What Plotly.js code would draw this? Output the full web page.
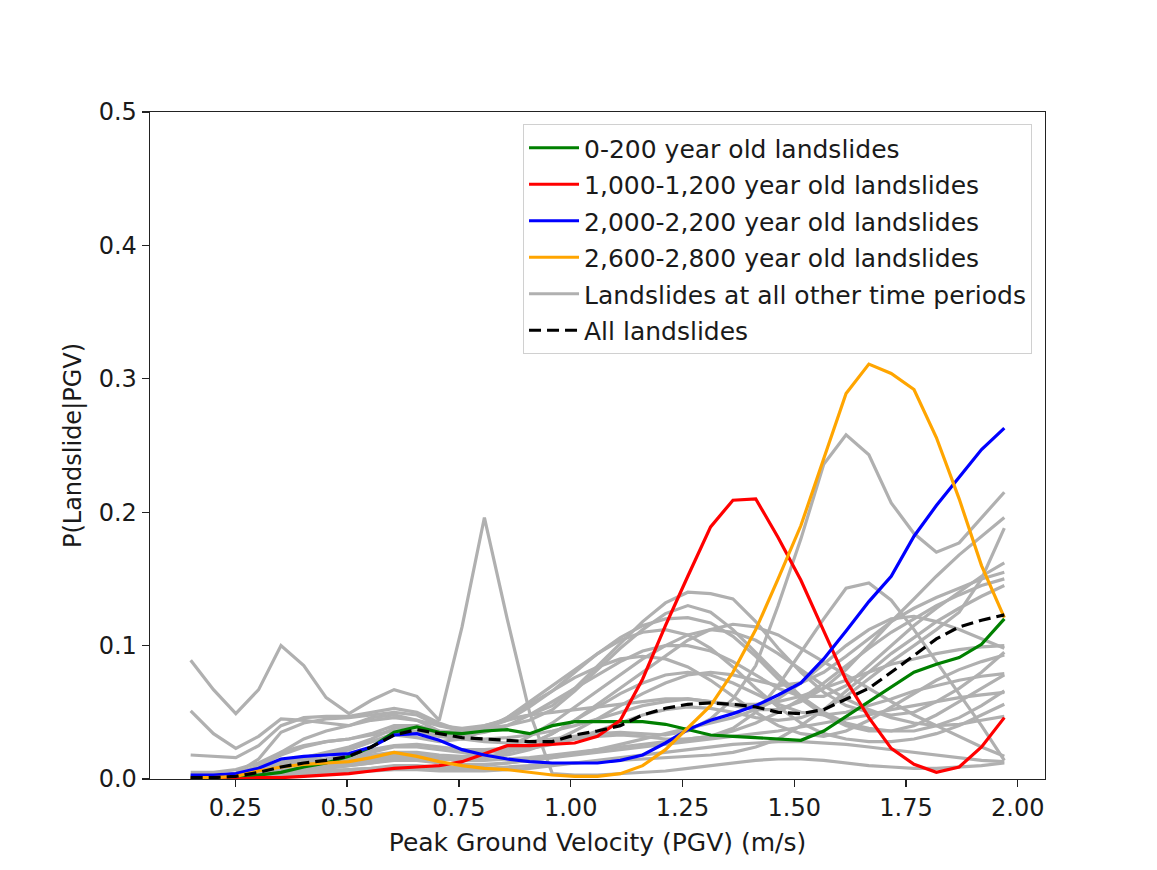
<!DOCTYPE html>
<html>
<head>
<meta charset="utf-8">
<script src="https://cdn.plot.ly/plotly-3.0.1.min.js"></script>
<style>html,body{margin:0;padding:0;background:#fff;}#chart{width:1157px;height:870px;}</style>
</head>
<body>
<div id="chart"></div>
<script>
// PGV bin positions (m/s)
const pgv = [0.150,0.201,0.251,0.302,0.352,0.403,0.453,0.504,0.554,0.605,0.656,0.706,0.757,0.807,0.858,0.908,0.959,1.009,1.060,1.111,1.161,1.212,1.262,1.313,1.363,1.414,1.464,1.515,1.566,1.616,1.667,1.717,1.768,1.818,1.869,1.919,1.970];

const green200 = [0.000,0.000,0.001,0.003,0.005,0.009,0.012,0.017,0.024,0.035,0.039,0.035,0.034,0.036,0.037,0.034,0.040,0.043,0.043,0.043,0.043,0.041,0.037,0.033,0.032,0.031,0.030,0.029,0.036,0.047,0.058,0.069,0.080,0.086,0.091,0.101,0.120];
const red1000 = [0.000,0.000,0.000,0.001,0.001,0.002,0.003,0.004,0.006,0.008,0.009,0.010,0.013,0.019,0.025,0.025,0.026,0.027,0.032,0.044,0.075,0.115,0.152,0.189,0.209,0.210,0.181,0.149,0.111,0.074,0.046,0.023,0.011,0.005,0.009,0.024,0.046];
const blue2000 = [0.003,0.003,0.004,0.008,0.015,0.017,0.018,0.019,0.024,0.033,0.034,0.029,0.022,0.018,0.015,0.013,0.012,0.012,0.012,0.014,0.018,0.027,0.037,0.044,0.049,0.055,0.063,0.072,0.090,0.111,0.133,0.152,0.182,0.205,0.226,0.247,0.263];
const orange2600 = [0.001,0.001,0.002,0.006,0.009,0.011,0.012,0.013,0.016,0.020,0.017,0.013,0.010,0.008,0.007,0.005,0.003,0.002,0.002,0.004,0.010,0.022,0.038,0.055,0.080,0.112,0.150,0.190,0.240,0.289,0.311,0.304,0.292,0.256,0.210,0.160,0.121];
const allSlides = [0.001,0.001,0.002,0.005,0.009,0.012,0.014,0.017,0.024,0.033,0.037,0.034,0.031,0.030,0.029,0.028,0.028,0.033,0.036,0.040,0.048,0.053,0.056,0.057,0.056,0.054,0.050,0.049,0.052,0.060,0.068,0.080,0.093,0.105,0.114,0.119,0.123];

// Other time periods (gray)
const other01 = [0.089,0.067,0.049,0.067,0.100,0.085,0.061,0.049,0.059,0.067,0.062,0.044,0.114,0.196,0.120,0.050,0.004,0.003,0.003,0.004,0.005,0.006,0.008,0.010,0.012,0.014,0.015,0.015,0.014,0.012,0.010,0.009,0.008,0.008,0.009,0.010,0.012];
const other02 = [0.051,0.034,0.023,0.032,0.045,0.044,0.042,0.040,0.046,0.048,0.044,0.036,0.035,0.040,0.045,0.048,0.055,0.068,0.085,0.102,0.118,0.132,0.140,0.139,0.135,0.118,0.098,0.080,0.065,0.055,0.050,0.048,0.050,0.058,0.068,0.080,0.095];
const other03 = [0.018,0.017,0.016,0.025,0.040,0.046,0.047,0.047,0.050,0.053,0.050,0.042,0.036,0.038,0.040,0.044,0.052,0.066,0.082,0.098,0.112,0.124,0.130,0.125,0.112,0.095,0.078,0.062,0.050,0.042,0.038,0.036,0.036,0.040,0.046,0.055,0.066];
const other04 = [0.000,0.001,0.002,0.006,0.012,0.016,0.020,0.024,0.030,0.038,0.040,0.035,0.030,0.028,0.027,0.028,0.030,0.032,0.034,0.035,0.034,0.033,0.036,0.045,0.060,0.085,0.130,0.180,0.236,0.258,0.243,0.207,0.184,0.170,0.177,0.196,0.215];
const other05 = [0.000,0.000,0.001,0.004,0.008,0.012,0.015,0.018,0.022,0.025,0.026,0.024,0.022,0.022,0.023,0.025,0.028,0.030,0.032,0.033,0.032,0.030,0.030,0.032,0.038,0.050,0.070,0.095,0.120,0.143,0.147,0.134,0.112,0.088,0.064,0.040,0.014];
const other06 = [0.003,0.003,0.004,0.008,0.013,0.016,0.019,0.022,0.028,0.033,0.031,0.028,0.030,0.036,0.046,0.058,0.070,0.082,0.094,0.106,0.115,0.120,0.121,0.117,0.107,0.092,0.075,0.060,0.048,0.040,0.036,0.036,0.040,0.048,0.058,0.068,0.078];
const other07 = [0.005,0.005,0.007,0.012,0.020,0.025,0.028,0.030,0.033,0.036,0.035,0.032,0.030,0.030,0.031,0.033,0.036,0.040,0.045,0.050,0.055,0.058,0.060,0.058,0.055,0.052,0.052,0.058,0.068,0.082,0.100,0.118,0.135,0.152,0.168,0.182,0.196];
const other08 = [0.002,0.002,0.003,0.006,0.010,0.013,0.015,0.017,0.020,0.024,0.024,0.022,0.020,0.020,0.021,0.023,0.026,0.030,0.036,0.042,0.048,0.052,0.054,0.053,0.050,0.046,0.044,0.046,0.052,0.062,0.075,0.088,0.100,0.112,0.125,0.150,0.188];
const other09 = [0.001,0.001,0.002,0.005,0.010,0.014,0.018,0.022,0.028,0.034,0.036,0.034,0.033,0.035,0.040,0.048,0.058,0.068,0.078,0.088,0.096,0.100,0.100,0.096,0.088,0.078,0.068,0.062,0.062,0.070,0.085,0.100,0.115,0.128,0.140,0.152,0.162];
const other10 = [0.000,0.000,0.001,0.003,0.006,0.008,0.010,0.012,0.015,0.018,0.018,0.016,0.015,0.016,0.018,0.022,0.028,0.036,0.045,0.055,0.064,0.072,0.078,0.080,0.078,0.074,0.070,0.072,0.080,0.092,0.105,0.118,0.128,0.136,0.143,0.150,0.155];
const other11 = [0.000,0.000,0.001,0.002,0.004,0.006,0.008,0.010,0.012,0.015,0.016,0.015,0.014,0.014,0.015,0.016,0.018,0.020,0.022,0.024,0.026,0.028,0.030,0.032,0.036,0.042,0.050,0.060,0.072,0.085,0.098,0.110,0.120,0.130,0.138,0.145,0.150];
const other12 = [0.000,0.000,0.000,0.002,0.004,0.006,0.008,0.010,0.012,0.014,0.014,0.012,0.011,0.011,0.012,0.014,0.016,0.019,0.022,0.026,0.030,0.034,0.038,0.042,0.046,0.052,0.060,0.072,0.086,0.100,0.112,0.120,0.122,0.118,0.112,0.105,0.098];
const other13 = [0.002,0.002,0.004,0.010,0.018,0.024,0.028,0.030,0.034,0.040,0.040,0.036,0.034,0.038,0.046,0.056,0.066,0.076,0.084,0.090,0.092,0.090,0.084,0.074,0.062,0.050,0.040,0.034,0.032,0.036,0.044,0.054,0.064,0.074,0.082,0.088,0.093];
const other14 = [0.000,0.000,0.001,0.003,0.006,0.009,0.012,0.014,0.016,0.018,0.018,0.016,0.015,0.016,0.020,0.026,0.034,0.044,0.054,0.064,0.072,0.078,0.080,0.078,0.072,0.064,0.056,0.050,0.048,0.050,0.055,0.060,0.066,0.070,0.074,0.077,0.079];
const other15 = [0.000,0.000,0.000,0.001,0.003,0.004,0.006,0.007,0.008,0.010,0.010,0.009,0.009,0.010,0.012,0.014,0.016,0.018,0.020,0.022,0.024,0.026,0.028,0.030,0.032,0.034,0.036,0.039,0.042,0.045,0.048,0.052,0.055,0.058,0.061,0.063,0.065];
const other16 = [0.001,0.001,0.002,0.005,0.009,0.012,0.014,0.016,0.018,0.020,0.020,0.018,0.017,0.019,0.024,0.032,0.042,0.054,0.066,0.078,0.090,0.100,0.108,0.112,0.110,0.104,0.094,0.082,0.070,0.060,0.052,0.046,0.042,0.040,0.041,0.044,0.047];
const other17 = [0.000,0.000,0.001,0.003,0.006,0.008,0.010,0.012,0.014,0.016,0.016,0.015,0.015,0.016,0.020,0.026,0.034,0.044,0.056,0.068,0.080,0.092,0.104,0.112,0.116,0.114,0.108,0.098,0.088,0.078,0.068,0.058,0.048,0.040,0.032,0.024,0.017];
const other18 = [0.000,0.000,0.000,0.001,0.002,0.003,0.004,0.005,0.006,0.007,0.007,0.006,0.006,0.006,0.007,0.008,0.010,0.012,0.014,0.016,0.018,0.020,0.022,0.024,0.026,0.027,0.028,0.028,0.027,0.026,0.024,0.022,0.020,0.018,0.016,0.014,0.013];
const other19 = [0.000,0.000,0.001,0.002,0.004,0.005,0.006,0.007,0.008,0.009,0.009,0.008,0.008,0.008,0.009,0.010,0.011,0.012,0.013,0.014,0.015,0.016,0.017,0.018,0.020,0.024,0.030,0.040,0.052,0.066,0.080,0.094,0.106,0.118,0.128,0.137,0.145];
const other20 = [0.000,0.001,0.004,0.015,0.035,0.042,0.045,0.046,0.048,0.050,0.048,0.040,0.036,0.038,0.044,0.054,0.066,0.080,0.094,0.104,0.110,0.112,0.108,0.098,0.084,0.068,0.054,0.042,0.034,0.030,0.028,0.028,0.030,0.034,0.040,0.048,0.056];
const other21 = [0.000,0.000,0.002,0.008,0.020,0.030,0.036,0.040,0.044,0.046,0.044,0.040,0.038,0.040,0.044,0.048,0.050,0.052,0.054,0.056,0.058,0.060,0.060,0.058,0.056,0.056,0.058,0.062,0.068,0.074,0.080,0.086,0.090,0.094,0.097,0.099,0.100];

const otherSeries = [other01,other02,other03,other04,other05,other06,other07,other08,other09,other10,other11,other12,other13,other14,other15,other16,other17,other18,other19,other20,other21];

const labels = ["0-200 year old landslides","1,000-1,200 year old landslides","2,000-2,200 year old landslides","2,600-2,800 year old landslides","Landslides at all other time periods","All landslides"];

const GRAY = "#b0b0b0";
const LW = 3.2;
const traces = [];
otherSeries.forEach((ys, i) => {
  traces.push({
    x: pgv, y: ys, type: "scatter", mode: "lines",
    line: {color: GRAY, width: LW},
    name: labels[4], legendgroup: "g5", legendrank: 5,
    showlegend: i === 0, hoverinfo: "skip"
  });
});
const colored = [
  [green200, "#008000", labels[0], 1],
  [red1000, "#ff0000", labels[1], 2],
  [blue2000, "#0000ff", labels[2], 3],
  [orange2600, "#ffa500", labels[3], 4]
];
colored.forEach(([ys, c, nm, r]) => {
  traces.push({x: pgv, y: ys, type: "scatter", mode: "lines",
    line: {color: c, width: LW}, name: nm, legendgroup: "g" + r, legendrank: r});
});
traces.push({x: pgv, y: allSlides, type: "scatter", mode: "lines",
  line: {color: "#000000", width: LW, dash: "12px,6px"}, name: labels[5], legendgroup: "g6", legendrank: 6});

const FONT = "DejaVu Sans, sans-serif";
const layout = {
  width: 1157, height: 870,
  margin: {l: 150, r: 112, t: 112, b: 91},
  paper_bgcolor: "#ffffff", plot_bgcolor: "#ffffff",
  font: {family: FONT, size: 24, color: "#1a1a1a"},
  showlegend: true,
  legend: {
    x: 0.9855, y: 0.982, xanchor: "right", yanchor: "top",
    bgcolor: "#ffffff", bordercolor: "#d0d0d0", borderwidth: 1,
    font: {family: FONT, size: 25, color: "#1a1a1a"},
    traceorder: "grouped", tracegroupgap: 1, itemwidth: 50
  },
  xaxis: {
    range: [0.059, 2.061], showgrid: false, zeroline: false,
    showline: true, mirror: true, linecolor: "#222222", linewidth: 1.4,
    ticks: "outside", ticklen: 7, tickwidth: 1.4, tickcolor: "#222222",
    tickvals: [0.25,0.5,0.75,1.0,1.25,1.5,1.75,2.0], tickformat: ".2f",
    title: {text: "Peak Ground Velocity (PGV) (m/s)", font: {family: FONT, size: 25}, standoff: 12}
  },
  yaxis: {
    range: [0, 0.5], showgrid: false, zeroline: false,
    showline: true, mirror: true, linecolor: "#222222", linewidth: 1.4,
    ticks: "outside", ticklen: 7, tickwidth: 1.4, tickcolor: "#222222",
    tickvals: [0,0.1,0.2,0.3,0.4,0.5], tickformat: ".1f",
    title: {text: "P(Landslide|PGV)", font: {family: FONT, size: 24}, standoff: 10}
  }
};
Plotly.newPlot("chart", traces, layout, {displayModeBar: false, staticPlot: true});
</script>
</body>
</html>
